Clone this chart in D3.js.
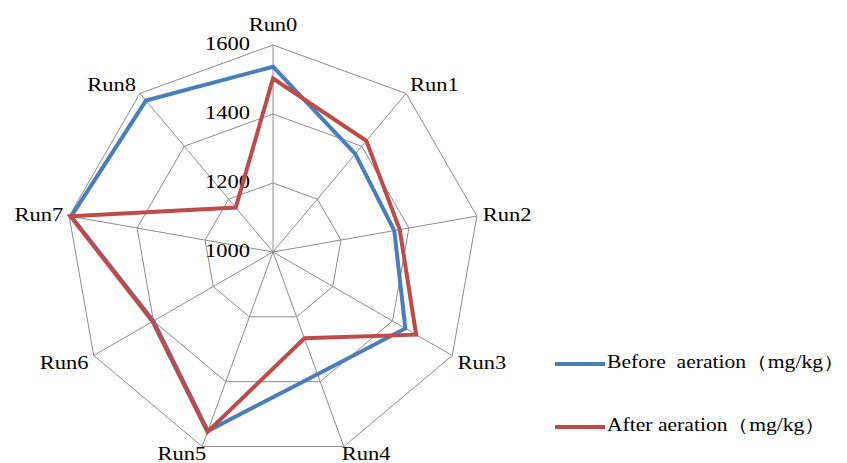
<!DOCTYPE html>
<html>
<head>
<meta charset="utf-8">
<script src="https://cdn.jsdelivr.net/npm/d3@7"></script>
<style>
  html, body { margin: 0; padding: 0; background: #fff; }
  svg { display: block; }
</style>
</head>
<body>
<svg id="chart" width="847" height="463"></svg>
<script>
// Axes of the radar, clockwise from the top
const categories = ["Run0", "Run1", "Run2", "Run3", "Run4", "Run5", "Run6", "Run7", "Run8"];
// Concentrations, mg/kg
const beforeValues = [1537, 1371, 1357, 1443, 1377, 1552, 1400, 1594, 1573];
const afterValues  = [1503, 1421, 1373, 1479, 1266, 1555, 1403, 1596, 1168];
const tickValues = [1000, 1200, 1400, 1600];
const seriesNames = ["Before\u00a0\u00a0aeration（mg/kg）", "After aeration（mg/kg）"];

const series = [
  { name: seriesNames[0], values: beforeValues, color: "#4a7ebb" },
  { name: seriesNames[1], values: afterValues,  color: "#be4b48" }
];

const svg = d3.select("#chart");
const cx = 273, cy = 252, R = 207;
const FONT = "'Liberation Serif', 'Times New Roman', serif";
const STRETCH = 1.25;

const r = d3.scaleLinear().domain([tickValues[0], tickValues[tickValues.length - 1]]).range([0, R]);
const angle = d3.scaleLinear().domain([0, categories.length]).range([0, 2 * Math.PI]);

const pt = (i, rad) => [cx + rad * Math.sin(angle(i)), cy - rad * Math.cos(angle(i))];

// Horizontally stretched label helper
function label(g, x, y, txt, anchor, size, sx) {
  g.append("g")
    .attr("transform", `translate(${x},${y}) scale(${sx},1)`)
    .append("text")
    .attr("text-anchor", anchor)
    .attr("dominant-baseline", "central")
    .attr("font-family", FONT)
    .attr("font-size", size)
    .attr("fill", "#000")
    .text(txt);
}

const grid = svg.append("g");

// Ring polygons
tickValues.slice(1).forEach(t => {
  const pts = categories.map((c, i) => pt(i, r(t)));
  grid.append("path")
    .attr("d", d3.line()(pts) + "Z")
    .attr("fill", "none")
    .attr("stroke", "#8c8c8c")
    .attr("stroke-width", 1);
});

// Spokes
categories.forEach((c, i) => {
  const [x, y] = pt(i, R);
  grid.append("line")
    .attr("x1", cx).attr("y1", cy).attr("x2", x).attr("y2", y)
    .attr("stroke", "#8c8c8c")
    .attr("stroke-width", 1);
});

// Value axis labels along the Run0 spoke
const texts = svg.append("g");
tickValues.forEach(t => {
  label(texts, cx - 23, cy - r(t) - 1, String(t), "end", 18, STRETCH);
});

// Category labels
categories.forEach((c, i) => {
  const a = angle(i);
  const s = Math.sin(a), co = Math.cos(a);
  const [x, y] = pt(i, R + 6);
  let anchor = Math.abs(s) < 0.1 ? "middle" : (s > 0 ? "start" : "end");
  let dy = 0, dx = 0;
  if (co > 0.9) { dy = -14; }
  else if (co < -0.9) { dy = 2; dx = s > 0 ? -4 : 6; }
  else if (co > 0.5) { dy = -4; }
  else if (co < 0) { dy = 4; }
  label(texts, x + dx, y + dy, c, anchor, 18, STRETCH);
});

// Series polygons
const lineGen = d3.line().curve(d3.curveLinearClosed);
series.forEach(sr => {
  svg.append("path")
    .attr("d", lineGen(sr.values.map((v, i) => pt(i, r(v)))))
    .attr("fill", "none")
    .attr("stroke", sr.color)
    .attr("stroke-width", 4)
    .attr("stroke-linejoin", "miter");
});

// Legend
const legend = svg.append("g");
const legendY = [364, 427];
series.forEach((sr, k) => {
  legend.append("line")
    .attr("x1", 555).attr("x2", 605)
    .attr("y1", legendY[k]).attr("y2", legendY[k])
    .attr("stroke", sr.color)
    .attr("stroke-width", 4);
  label(legend, 607, legendY[k] - 2, sr.name, "start", 18, 1.2);
});
</script>
</body>
</html>
